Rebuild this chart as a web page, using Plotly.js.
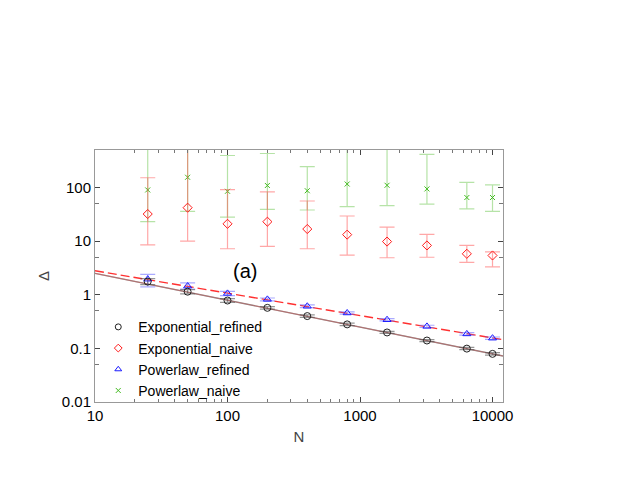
<!DOCTYPE html>
<html>
<head>
<meta charset="utf-8">
<script src="https://cdn.plot.ly/plotly-3.0.1.min.js"></script>
<style>html,body{margin:0;padding:0;background:#fff;}#chart{width:623px;height:482px;}</style>
</head>
<body>
<div id="chart"></div>
<script>
// System sizes N
const N = [25, 50, 100, 200, 400, 800, 1600, 3200, 6400, 10000];

// Exponential_refined
const expRef = [1.76, 1.14, 0.78, 0.57, 0.40, 0.28, 0.198, 0.14, 0.099, 0.079];
const expRefHi = [2.0, 1.25, 0.85, 0.60, 0.42, 0.295, 0.207, 0.146, 0.104, 0.083];
const expRefLo = [1.55, 1.04, 0.72, 0.54, 0.38, 0.265, 0.19, 0.134, 0.095, 0.075];

// Exponential_naive
const expNaive = [32, 42, 21, 23, 16.8, 13.2, 9.8, 8.3, 5.8, 5.4];
const expNaiveHi = [152, 800, 91, 83, 56, 29.4, 18.2, 13.4, 8.3, 6.3];
const expNaiveLo = [8.5, 10, 7.2, 8, 7.2, 5.5, 4.9, 5.0, 4.0, 3.3];

// Powerlaw_refined
const powRef = [1.95, 1.45, 1.06, 0.82, 0.61, 0.457, 0.342, 0.257, 0.186, 0.155];
const powRefHi = [2.4, 1.66, 1.16, 0.87, 0.645, 0.48, 0.36, 0.27, 0.196, 0.163];
const powRefLo = [1.4, 1.28, 0.96, 0.77, 0.575, 0.435, 0.325, 0.245, 0.177, 0.147];

// Powerlaw_naive
const powNaive = [90, 155, 85, 109, 87, 116, 110, 94, 65, 65];
const powNaiveHi = [800, 800, 395, 430, 245, 800, 800, 415, 124, 112];
const powNaiveLo = [23, 36, 28, 39, 38, 44, 46, 49, 40, 36];

// Fit lines
const fitX = [10, 12000];
const fitSolid = [2.5, 0.072];
const fitDashed = [2.8, 0.145];

const xTicks = [10, 100, 1000, 10000];
const xTickText = ['10', '100', '1000', '10000'];
const yTicks = [0.01, 0.1, 1, 10, 100];
const yTickText = ['0.01', '0.1', '1', '10', '100'];
const xMinorTicks = [];
[10, 100, 1000, 10000].forEach(d => { for (let k = 2; k <= 9; k++) xMinorTicks.push(k * d); });
const yMinorTicks = [0.05, 0.5, 5, 50];

function err(v, hi, lo, color, w) {
  return {type: 'data', symmetric: false,
    array: v.map((d, i) => hi[i] - d),
    arrayminus: v.map((d, i) => d - lo[i]),
    color: color, thickness: 1.2, width: w};
}

const traces = [
  {x: fitX, y: fitSolid, mode: 'lines', showlegend: false, hoverinfo: 'skip',
   line: {color: 'rgba(120,120,120,0.9)', width: 1.3}},
  {x: fitX, y: fitSolid, mode: 'lines', showlegend: false, hoverinfo: 'skip',
   line: {color: 'rgba(230,90,90,0.45)', width: 1.2}},
  {x: fitX, y: fitDashed, mode: 'lines', showlegend: false, hoverinfo: 'skip',
   line: {color: '#ff3030', width: 1.3, dash: '9px,4px'}},
  {x: N, y: powNaive, name: 'Powerlaw_naive', mode: 'markers', showlegend: false,
   marker: {symbol: 'x-thin-open', size: 5, color: '#44bb22', line: {width: 1, color: '#44bb22'}},
   error_y: err(powNaive, powNaiveHi, powNaiveLo, 'rgba(110,200,80,0.5)', 7.5)},
  {x: N, y: expNaive, name: 'Exponential_naive', mode: 'markers', showlegend: false,
   marker: {symbol: 'diamond-open', size: 7, color: '#ff1a1a', line: {width: 1}},
   error_y: err(expNaive, expNaiveHi, expNaiveLo, 'rgba(255,80,80,0.5)', 7.5)},
  {x: N, y: powRef, name: 'Powerlaw_refined', mode: 'markers', showlegend: false,
   marker: {symbol: 'triangle-up-open', size: 7, color: '#1a1aff', line: {width: 1}},
   error_y: err(powRef, powRefHi, powRefLo, 'rgba(100,100,255,0.55)', 7.5)},
  {x: N, y: expRef, name: 'Exponential_refined', mode: 'markers', showlegend: false,
   marker: {symbol: 'circle-open', size: 7, color: '#222', line: {width: 1}},
   error_y: err(expRef, expRefHi, expRefLo, 'rgba(80,80,80,0.6)', 7.5)},
  // legend entries
  {x: [null], y: [null], name: 'Exponential_refined', mode: 'markers', legendrank: 1,
   marker: {symbol: 'circle-open', size: 6, color: '#222', line: {width: 1}}},
  {x: [null], y: [null], name: 'Exponential_naive', mode: 'markers', legendrank: 2,
   marker: {symbol: 'diamond-open', size: 6, color: '#ff1a1a', line: {width: 1}}},
  {x: [null], y: [null], name: 'Powerlaw_refined', mode: 'markers', legendrank: 3,
   marker: {symbol: 'triangle-up-open', size: 6, color: '#1a1aff', line: {width: 1}}},
  {x: [null], y: [null], name: 'Powerlaw_naive', mode: 'markers', legendrank: 4,
   marker: {symbol: 'x-thin-open', size: 5, color: '#44bb22', line: {width: 1, color: '#44bb22'}}},
  // dummy trace for mirrored tick axes
  {x: [null], y: [null], xaxis: 'x2', yaxis: 'y2', mode: 'markers', showlegend: false, hoverinfo: 'skip'}
];

const font = 'Liberation Sans, Arial, sans-serif';
const axisCommon = {
  type: 'log', showgrid: false, zeroline: false,
  showline: true, linecolor: '#999', linewidth: 1,
  ticks: 'inside', ticklen: 5, tickcolor: '#444', tickwidth: 1,
  tickfont: {family: font, size: 15, color: '#000'}
};
const xMinor = {tickmode: 'array', tickvals: xMinorTicks, ticks: 'inside', ticklen: 3, tickcolor: '#777', showgrid: false};
const yMinor = {tickmode: 'array', tickvals: yMinorTicks, ticks: 'inside', ticklen: 4, tickcolor: '#777', showgrid: false};

const xRange = [1, Math.log10(12000)];
const yRange = [-2, Math.log10(500)];

const layout = {
  width: 623, height: 482,
  margin: {l: 95, r: 120, t: 150, b: 80},
  paper_bgcolor: '#fff', plot_bgcolor: '#fff',
  showlegend: true,
  legend: {x: 0.008, y: 0.36, xanchor: 'left', yanchor: 'top', bgcolor: 'rgba(0,0,0,0)',
    font: {family: font, size: 14, color: '#000'},
    itemwidth: 30, tracegroupgap: 0},
  xaxis: Object.assign({}, axisCommon, {
    range: xRange, tickmode: 'array', tickvals: xTicks, ticktext: xTickText, minor: xMinor,
    title: {text: 'N', font: {family: font, size: 15}, standoff: 8}
  }),
  yaxis: Object.assign({}, axisCommon, {
    range: yRange, tickmode: 'array', tickvals: yTicks, ticktext: yTickText, minor: yMinor,
    title: {text: 'Δ', font: {family: font, size: 15}, standoff: 8}
  }),
  xaxis2: Object.assign({}, axisCommon, {
    overlaying: 'x', side: 'top', range: xRange, tickmode: 'array', tickvals: xTicks,
    showticklabels: false, minor: xMinor
  }),
  yaxis2: Object.assign({}, axisCommon, {
    overlaying: 'y', side: 'right', range: yRange, tickmode: 'array', tickvals: yTicks,
    showticklabels: false, minor: yMinor
  }),
  annotations: [{
    text: '(a)', xref: 'x', yref: 'y', x: Math.log10(135), y: Math.log10(2.8),
    showarrow: false, font: {family: font, size: 20, color: '#000'}
  }]
};

Plotly.newPlot('chart', traces, layout, {displayModeBar: false, staticPlot: true});
</script>
</body>
</html>
